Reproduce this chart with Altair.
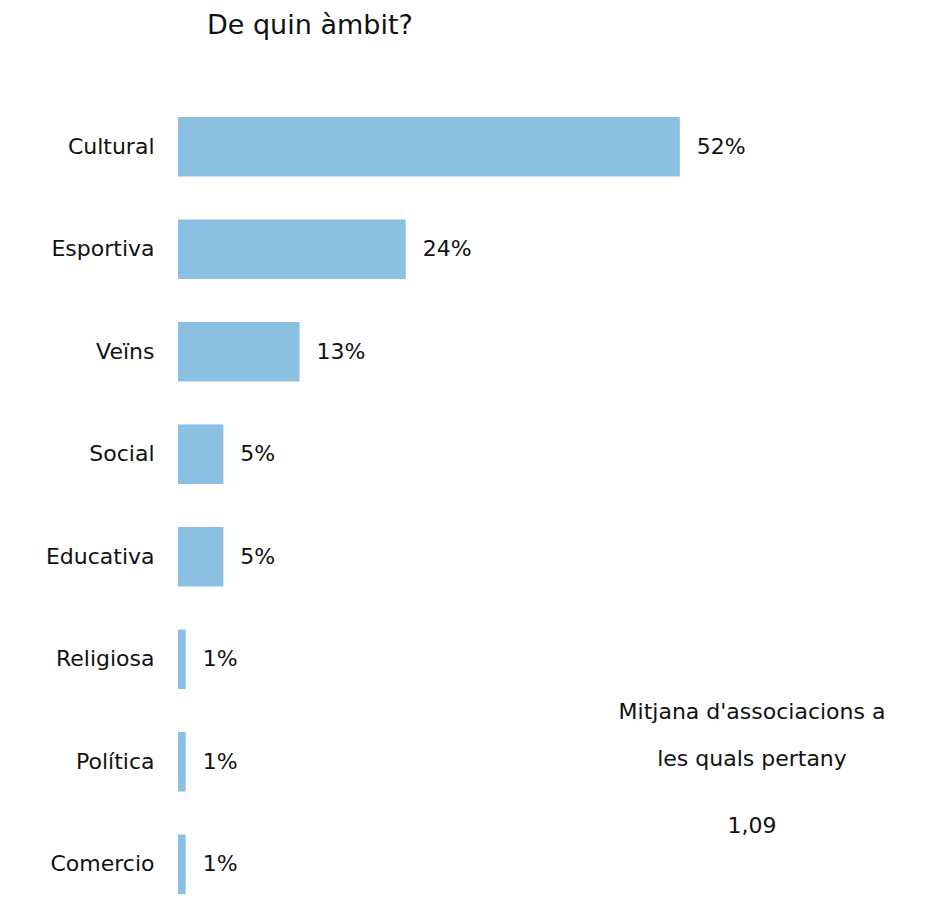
import altair as alt
import pandas as pd

categories = ["Cultural", "Esportiva", "Veïns", "Social", "Educativa", "Religiosa", "Política", "Comercio"]
values = [52.0, 23.6, 12.6, 4.7, 4.7, 0.8, 0.8, 0.8]
note_lines = ["Mitjana d'associacions a", "les quals pertany", "1,09"]

FONT = "DejaVu Sans"
df = pd.DataFrame({"cat": categories, "val": values})
df["label"] = [f"{round(v):.0f}%" for v in values]

y_enc = alt.Y("cat:N", sort=categories, title=None,
              scale=alt.Scale(paddingInner=0.42, paddingOuter=0.0),
              axis=alt.Axis(domain=False, ticks=False, labelFontSize=22, labelFont=FONT,
                            labelColor="#111111", labelPadding=24, minExtent=170, maxExtent=170))
x_enc = alt.X("val:Q", scale=alt.Scale(domain=[0, 60]), axis=None)

bars = alt.Chart(df).mark_bar(color="#8BC0E2").encode(x=x_enc, y=y_enc)
labels = alt.Chart(df).mark_text(align="left", baseline="middle", dx=17, fontSize=22,
                                 font=FONT, color="#111111").encode(x=x_enc, y=y_enc, text="label:N")

note_df = pd.DataFrame({"t": note_lines, "py": [595, 642, 709]})
note = alt.Chart(note_df).mark_text(align="center", baseline="middle", fontSize=22,
                                    font=FONT, color="#111111").encode(
    x=alt.value(574), y=alt.Y("py:Q", scale=None, axis=None), text="t:N")

chart = alt.layer(bars, labels, note).properties(
    width=579, height=777,
    title=alt.TitleParams("De quin àmbit?", anchor="start", frame="group", dx=29,
                          fontSize=27, font=FONT, fontWeight="normal", color="#111111", offset=77),
    padding={"left": 0, "top": 4, "right": 0, "bottom": 0},
).configure_view(stroke=None)

chart.save("out.html", embed_options={"renderer": "svg", "actions": False})
